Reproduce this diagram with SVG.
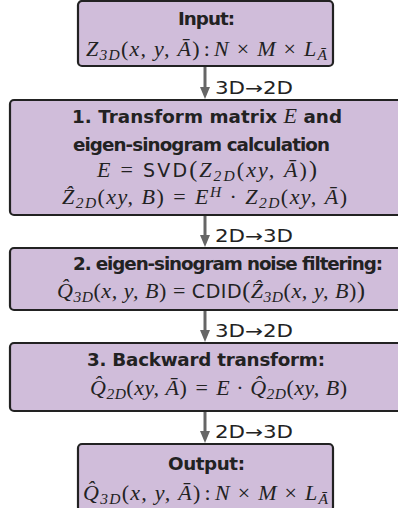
<svg xmlns="http://www.w3.org/2000/svg" width="398" height="508" viewBox="0 0 398 508">
<style>
.box{fill:#d0bdda;stroke:#222;stroke-width:2.2}
.hd{font-family:"DejaVu Sans","Liberation Sans",sans-serif;font-weight:bold;font-size:18.3px;fill:#222}
.m{font-family:"Liberation Serif","Times New Roman",serif;font-style:italic;font-size:22px;fill:#222}
.up{font-style:normal}
.big{font-style:normal;font-size:24px}
.sf{font-family:"DejaVu Sans","Liberation Sans",sans-serif;font-style:normal;font-size:19px}
.sub{font-size:15.5px}
.lbl{font-family:"DejaVu Sans","Liberation Sans",sans-serif;font-size:17px;fill:#222}
.ar{stroke:#666;stroke-width:3}
.ah{fill:#666}
</style>
<rect width="398" height="508" fill="#fff"/>
<g id="connectors">
<line class="ar" x1="205" y1="66" x2="205" y2="90"/><polygon class="ah" points="200,87 210,87 205,99"/>
<text class="lbl" x="215" y="94" textLength="78" lengthAdjust="spacingAndGlyphs">3D→2D</text>
<line class="ar" x1="205" y1="215" x2="205" y2="237"/><polygon class="ah" points="200,235 210,235 205,247"/>
<text class="lbl" x="215" y="242" textLength="78" lengthAdjust="spacingAndGlyphs">2D→3D</text>
<line class="ar" x1="205" y1="310" x2="205" y2="332"/><polygon class="ah" points="200,330 210,330 205,342"/>
<text class="lbl" x="215" y="337" textLength="78" lengthAdjust="spacingAndGlyphs">3D→2D</text>
<line class="ar" x1="205" y1="411" x2="205" y2="433"/><polygon class="ah" points="200,431 210,431 205,443"/>
<text class="lbl" x="215" y="438" textLength="78" lengthAdjust="spacingAndGlyphs">2D→3D</text>
</g>
<g id="input">
<rect class="box" x="78" y="1" width="255" height="65" rx="4"/>
<text class="hd" x="178" y="25" textLength="57">Input:</text>
<text class="m" x="86" y="56" textLength="241">Z<tspan class="sub" dy="3.5">3D</tspan><tspan dy="-3.5" class="up">(</tspan>x, y, Ā<tspan class="up">)</tspan><tspan class="up" dx="3">:</tspan><tspan dx="3">N</tspan> <tspan class="up">×</tspan> M <tspan class="up">×</tspan> L<tspan class="sub" dy="3.5">Ā</tspan></text>
</g>
<g id="step1">
<rect class="box" x="10" y="100" width="392" height="115" rx="4"/>
<text class="hd" x="72" y="123" textLength="270">1. Transform matrix <tspan font-family="Liberation Serif" font-style="italic" font-weight="normal" font-size="22">E</tspan> and</text>
<text class="hd" x="73" y="151" textLength="257">eigen-sinogram calculation</text>
<text class="m" x="97" y="177" textLength="220">E<tspan class="up" dx="8">=</tspan><tspan class="sf" dx="8">SVD</tspan><tspan class="big">(</tspan>Z<tspan class="sub" dy="3.5">2D</tspan><tspan dy="-3.5" class="up">(</tspan>xy, Ā<tspan class="up">)</tspan><tspan class="big">)</tspan></text>
<text class="m" x="62" y="204" textLength="285">Ẑ<tspan class="sub" dy="3.5">2D</tspan><tspan dy="-3.5" class="up">(</tspan>xy, B<tspan class="up">)</tspan><tspan class="up" dx="8">=</tspan><tspan dx="8">E</tspan><tspan class="sub" dy="-7">H</tspan><tspan dy="7" class="up"> · </tspan>Z<tspan class="sub" dy="3.5">2D</tspan><tspan dy="-3.5" class="up">(</tspan>xy, Ā<tspan class="up">)</tspan></text>
</g>
<g id="step2">
<rect class="box" x="10" y="248" width="392" height="62" rx="4"/>
<text class="hd" x="73" y="270" textLength="310">2. eigen-sinogram noise filtering:</text>
<text class="m" x="57" y="298" textLength="308">Q̂<tspan class="sub" dy="3.5">3D</tspan><tspan dy="-3.5" class="up">(</tspan>x, y, B<tspan class="up">)</tspan><tspan class="up" dx="6">=</tspan><tspan class="sf" dx="6">CDID</tspan><tspan class="big">(</tspan>Ẑ<tspan class="sub" dy="3.5">3D</tspan><tspan dy="-3.5" class="up">(</tspan>x, y, B<tspan class="up">)</tspan><tspan class="big">)</tspan></text>
</g>
<g id="step3">
<rect class="box" x="10" y="343" width="392" height="68" rx="4"/>
<text class="hd" x="87" y="366" textLength="238">3. Backward transform:</text>
<text class="m" x="90" y="395" textLength="257">Q̂<tspan class="sub" dy="3.5">2D</tspan><tspan dy="-3.5" class="up">(</tspan>xy, Ā<tspan class="up">)</tspan><tspan class="up" dx="8">=</tspan><tspan dx="8">E</tspan> <tspan class="up">·</tspan> Q̂<tspan class="sub" dy="3.5">2D</tspan><tspan dy="-3.5" class="up">(</tspan>xy, B<tspan class="up">)</tspan></text>
</g>
<g id="output">
<rect class="box" x="78" y="444" width="255" height="67" rx="4"/>
<text class="hd" x="168" y="470" textLength="77">Output:</text>
<text class="m" x="83" y="500" textLength="245">Q̂<tspan class="sub" dy="3.5">3D</tspan><tspan dy="-3.5" class="up">(</tspan>x, y, Ā<tspan class="up">)</tspan><tspan class="up" dx="3">:</tspan><tspan dx="3">N</tspan> <tspan class="up">×</tspan> M <tspan class="up">×</tspan> L<tspan class="sub" dy="3.5">Ā</tspan></text>
</g>
</svg>
